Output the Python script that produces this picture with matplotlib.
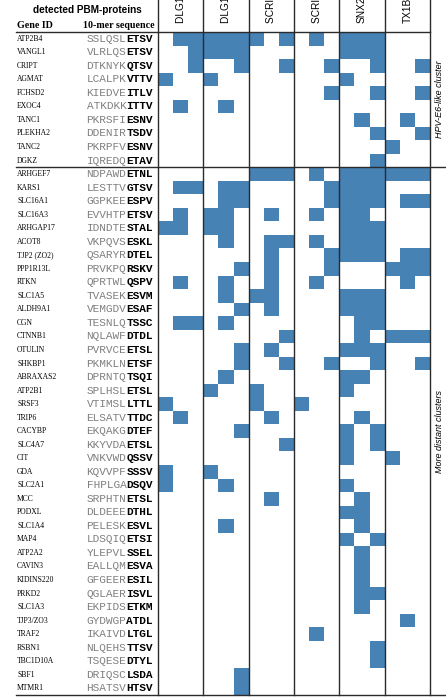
import matplotlib
matplotlib.use("Agg")
import matplotlib.pyplot as plt
import matplotlib.transforms as mtransforms
from matplotlib.colors import ListedColormap
import numpy as np

# PDZ domains (3 sub-columns each)
pdz_labels = ["DLG1 PDZ1", "DLG1 PDZ2", "SCRIB PDZ1", "SCRIB PDZ4", "SNX27", "TX1B3"]

hpv_genes = ["ATP2B4", "VANGL1", "CRIPT", "AGMAT", "FCHSD2", "EXOC4", "TANC1",
             "PLEKHA2", "TANC2", "DGKZ"]
hpv_seqs = ["SSLQSLETSV", "VLRLQSETSV", "DTKNYKQTSV", "LCALPKVTTV", "KIEDVEITLV",
            "ATKDKKITTV", "PKRSFIESNV", "DDENIRTSDV", "PKRPFVESNV", "IQREDQETAV"]
hpv_hits = ["011111101010111000", "001111000000111000", "001001001001001001",
            "100100000000100000", "000000000001001001", "010010000000000000",
            "000000000000010010", "000000000000001001", "000000000000000100",
            "000000000000001000"]

distant_genes = ["ARHGEF7", "KARS1", "SLC16A1", "SLC16A3", "ARHGAP17", "ACOT8",
                 "TJP2 (ZO2)", "PPP1R13L", "RTKN", "SLC1A5", "ALDH9A1", "CGN",
                 "CTNNB1", "OTULIN", "SHKBP1", "ABRAXAS2", "ATP2B1", "SRSF3",
                 "TRIP6", "CACYBP", "SLC4A7", "CIT", "GDA", "SLC2A1", "MCC",
                 "PODXL", "SLC1A4", "MAP4", "ATP2A2", "CAVIN3", "KIDINS220",
                 "PRKD2", "SLC1A3", "TJP3/ZO3", "TRAF2", "RSBN1", "TBC1D10A",
                 "SBF1", "MTMR1"]
distant_seqs = ["NDPAWDETNL", "LESTTVGTSV", "GGPKEEESPV", "EVVHTPETSV", "IDNDTESTAL",
                "VKPQVSESKL", "QSARYRDTEL", "PRVKPQRSKV", "QPRTWLQSPV", "TVASEKESVM",
                "VEMGDVESAF", "TESNLQTSSC", "NQLAWFDTDL", "PVRVCEETSL", "PKMKLNETSF",
                "DPRNTQTSQI", "SPLHSLETSL", "VTIMSLLTTL", "ELSATVTTDC", "EKQAKGDTEF",
                "KKYVDAETSL", "VNKVWDQSSV", "KQVVPFSSSV", "FHPLGADSQV", "SRPHTNETSL",
                "DLDEEEDTHL", "PELESKESVL", "LDSQIQETSI", "YLEPVLSSEL", "EALLQMESVA",
                "GFGEERESIL", "QGLAERISVL", "EKPIDSETKM", "GYDWGPATDL", "IKAIVDLTGL",
                "NLQEHSTTSV", "TSQESEDTYL", "DRIQSCLSDA", "HSATSVHTSV"]
distant_hits = ["000000111010111111", "011011000001111000", "000011000001111011",
                "010110010010110000", "110110000000111000", "000010011010111000",
                "000000010001111011", "000001010001000111", "010010010010000010",
                "000010110000111000", "000001010000111000", "011010000000011000",
                "000000001000010111", "000001010000111000", "000001001001001001",
                "000010000000110000", "000100100000100000", "100000100100000000",
                "010000010000010000", "000001000000101000", "000000001000101000",
                "000000000000100100", "100100000000000000", "100010000000100000",
                "000000010000010000", "000000000000110000", "000010000000010000",
                "000000000000101000", "000000000000010000", "000000000000010000",
                "000000000000010000", "000000000000011000", "000000000000010000",
                "000000000000000010", "000000000010000000", "000000000000001000",
                "000000000000001000", "000001000000000000", "000001000000000000"]

genes = hpv_genes + distant_genes
seqs = hpv_seqs + distant_seqs
hits = np.array([[int(c) for c in row] for row in hpv_hits + distant_hits])
n_rows, n_cols = hits.shape

W, H = 446, 697
fig = plt.figure(figsize=(W / 100, H / 100), dpi=100)
ax = fig.add_axes([158 / W, 2 / H, 272 / W, 663 / H])
ax.pcolormesh(hits, cmap=ListedColormap(["white", "#4682b4"]), vmin=0, vmax=1)
ax.set_xlim(0, n_cols)
ax.set_ylim(n_rows, 0)
ax.axis("off")

trans = mtransforms.blended_transform_factory(fig.transFigure, ax.transData)
line_kw = dict(color="#2b2b2b", lw=1.0)

for x in range(0, n_cols + 1, 3):
    ax.axvline(x, ymin=0, ymax=1.06, clip_on=False, **line_kw)
ax.plot([16 / W, 430 / W], [0, 0], transform=trans, clip_on=False, **line_kw)
for y in [len(hpv_genes), n_rows]:
    ax.plot([16 / W, 1], [y, y], transform=trans, clip_on=False, **line_kw)

# column headers (cut off by the top edge)
for j, lab in enumerate(pdz_labels):
    ax.text(3 * j + 1.5, -0.65, lab, rotation=90, ha="center", va="bottom",
            fontsize=7.3, family="Liberation Sans", clip_on=False)

# left table
fig.text(87 / W, 1 - 10 / H, "detected PBM-proteins", ha="center", va="center",
         fontsize=7.2, fontweight="bold", family="Liberation Sans")
fig.text(17 / W, 1 - 26 / H, "Gene ID", ha="left", va="center",
         fontsize=7.2, fontweight="bold", family="Liberation Serif")
fig.text(155 / W, 1 - 26 / H, "10-mer sequence", ha="right", va="center",
         fontsize=7.2, fontweight="bold", family="Liberation Serif")

seq_fs = 8
char_w = 0.6 * seq_fs / 72 * 100
seq_right = 153
for i, (g, s) in enumerate(zip(genes, seqs)):
    ax.text(17 / W, i + 0.5, g, transform=trans, ha="left", va="center",
            fontsize=5.5, family="Liberation Serif")
    ax.text((seq_right - 4 * char_w) / W, i + 0.5, s[:6], transform=trans,
            ha="right", va="center", fontsize=seq_fs, family="Liberation Mono",
            color="#808080")
    ax.text(seq_right / W, i + 0.5, s[6:], transform=trans, ha="right",
            va="center", fontsize=seq_fs, family="Liberation Mono",
            fontweight="bold", color="black")

# cluster labels on the right
ax.text(440 / W, len(hpv_genes) / 2, "HPV-E6-like cluster", transform=trans,
        rotation=90, ha="center", va="center", fontsize=6.5, style="italic",
        family="Liberation Sans")
ax.text(440 / W, (len(hpv_genes) + n_rows) / 2, "More distant clusters",
        transform=trans, rotation=90, ha="center", va="center", fontsize=6.5,
        style="italic", family="Liberation Sans")

fig.savefig("out.png", dpi=100)
